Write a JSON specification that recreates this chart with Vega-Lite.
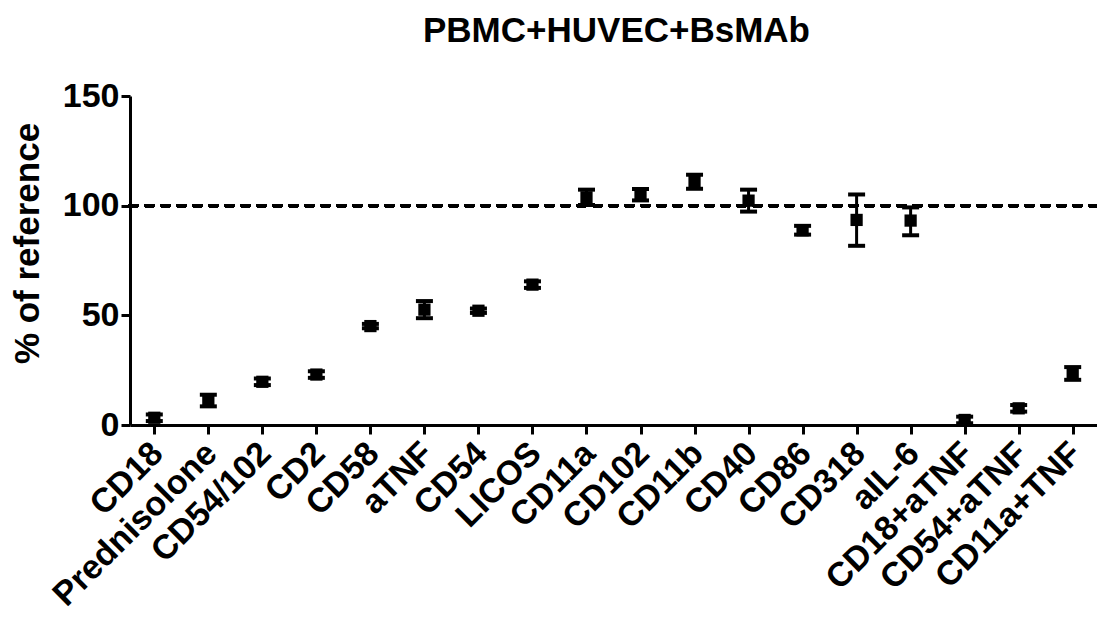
{
  "$schema": "https://vega.github.io/schema/vega-lite/v6.json",
  "autosize": {"type": "none"},
  "width": 967,
  "height": 329,
  "padding": {"left": 130, "top": 96, "right": 0, "bottom": 198},
  "background": "white",
  "title": {
    "text": "PBMC+HUVEC+BsMAb",
    "font": "Liberation Sans",
    "fontSize": 35,
    "fontWeight": "bold",
    "color": "black",
    "dx": 3,
    "offset": 30
  },
  "config": {
    "view": {"stroke": null},
    "axis": {
      "labelFont": "Liberation Sans",
      "titleFont": "Liberation Sans",
      "labelFontWeight": "bold",
      "titleFontWeight": "bold",
      "labelColor": "black",
      "titleColor": "black",
      "domainColor": "black",
      "tickColor": "black",
      "domainWidth": 3,
      "tickWidth": 3,
      "tickSize": 9,
      "grid": false
    }
  },
  "data": {
    "values": [
      {"name": "CD18", "mean": 3.3, "lo": 1.8, "hi": 4.8},
      {"name": "Prednisolone", "mean": 11.1, "lo": 8.5, "hi": 13.8},
      {"name": "CD54/102", "mean": 19.7, "lo": 18.2, "hi": 21.2},
      {"name": "CD2", "mean": 23.0, "lo": 21.5, "hi": 24.5},
      {"name": "CD58", "mean": 45.1, "lo": 44.1, "hi": 46.1},
      {"name": "aTNF", "mean": 52.6, "lo": 48.7, "hi": 56.5},
      {"name": "CD54", "mean": 52.1, "lo": 51.1, "hi": 53.1},
      {"name": "LICOS", "mean": 64.0, "lo": 62.5, "hi": 65.5},
      {"name": "CD11a", "mean": 103.8, "lo": 100.3, "hi": 107.3},
      {"name": "CD102", "mean": 105.0, "lo": 102.4, "hi": 107.6},
      {"name": "CD11b", "mean": 110.9, "lo": 107.7, "hi": 114.1},
      {"name": "CD40", "mean": 102.3, "lo": 97.3, "hi": 107.3},
      {"name": "CD86", "mean": 88.8, "lo": 86.8, "hi": 90.8},
      {"name": "CD318", "mean": 93.5, "lo": 81.7, "hi": 105.1},
      {"name": "aIL-6", "mean": 93.2, "lo": 86.5, "hi": 99.2},
      {"name": "CD18+aTNF", "mean": 2.3, "lo": 0.8, "hi": 3.8},
      {"name": "CD54+aTNF", "mean": 7.6, "lo": 6.1, "hi": 9.1},
      {"name": "CD11a+TNF", "mean": 23.5, "lo": 20.6, "hi": 26.4}
    ]
  },
  "encoding": {
    "x": {
      "field": "name",
      "type": "nominal",
      "sort": null,
      "scale": {"type": "point", "padding": 0.45},
      "axis": {
        "title": null,
        "labelAngle": -45,
        "labelAlign": "right",
        "labelBaseline": "middle",
        "labelFontSize": 34,
        "labelPadding": 14,
        "labelOffset": 3,
        "labelLimit": 0,
        "labelOverlap": false,
        "labelBound": false
      }
    }
  },
  "layer": [
    {
      "mark": {"type": "rule", "color": "black", "strokeWidth": 3.5, "strokeDash": [7, 9], "strokeCap": "round"},
      "encoding": {"x": null, "y": {"datum": 100, "type": "quantitative"}}
    },
    {
      "mark": {"type": "rule", "color": "black", "strokeWidth": 3},
      "encoding": {
        "y": {"field": "lo", "type": "quantitative"},
        "y2": {"field": "hi"}
      }
    },
    {
      "mark": {"type": "tick", "color": "black", "size": 17, "thickness": 4, "opacity": 1},
      "encoding": {"y": {"field": "lo", "type": "quantitative"}}
    },
    {
      "mark": {"type": "tick", "color": "black", "size": 17, "thickness": 4, "opacity": 1},
      "encoding": {"y": {"field": "hi", "type": "quantitative"}}
    },
    {
      "mark": {"type": "point", "shape": "square", "filled": true, "color": "black", "opacity": 1, "size": 150},
      "encoding": {
        "y": {
          "field": "mean",
          "type": "quantitative",
          "scale": {"domain": [0, 150], "nice": false},
          "axis": {
            "title": "% of reference",
            "titleFontSize": 35,
            "titleAngle": -90,
            "titleAlign": "center",
            "titleBaseline": "alphabetic",
            "titleX": -92,
            "titleY": 147,
            "labelFontSize": 34,
            "labelPadding": 2,
            "values": [0, 50, 100, 150]
          }
        }
      }
    }
  ]
}
